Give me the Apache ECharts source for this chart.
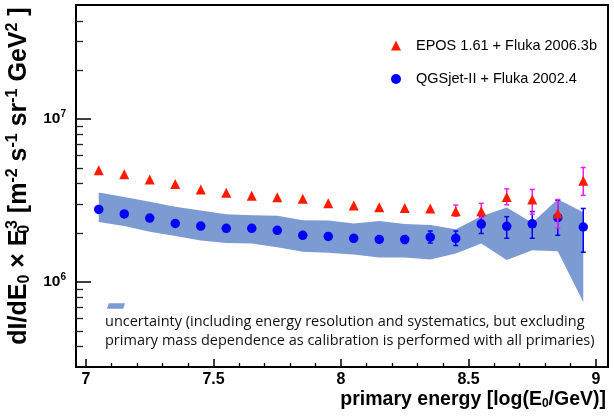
<!DOCTYPE html>
<html><head><meta charset="utf-8">
<script src="https://cdn.jsdelivr.net/npm/echarts@6/dist/echarts.min.js"></script>
<style>html,body{margin:0;padding:0;background:#fff}#c{width:614px;height:420px}</style>
</head><body><div id="c"></div>
<script>
// ---- data ----
const energies = [7.05,7.15,7.25,7.35,7.45,7.55,7.65,7.75,7.85,7.95,8.05,8.15,8.25,8.35,8.45,8.55,8.65,8.75,8.85,8.95];
const eposName = 'EPOS 1.61 + Fluka 2006.3b';
const eposValues = [4.84e6,4.58e6,4.25e6,3.99e6,3.69e6,3.52e6,3.37e6,3.30e6,3.23e6,3.03e6,2.94e6,2.87e6,2.84e6,2.82e6,2.71e6,2.71e6,3.32e6,3.20e6,2.63e6,4.17e6];
const eposErrLow  = [null,null,null,null,null,null,null,null,null,null,null,null,null,null,2.53e6,2.48e6,2.97e6,2.60e6,2.14e6,3.39e6];
const eposErrHigh = [null,null,null,null,null,null,null,null,null,null,null,null,null,null,2.96e6,3.03e6,3.72e6,3.69e6,3.20e6,5.03e6];
const qgsName = 'QGSjet-II + Fluka 2002.4';
const qgsValues = [2.78e6,2.61e6,2.46e6,2.28e6,2.20e6,2.13e6,2.13e6,2.07e6,1.93e6,1.90e6,1.85e6,1.82e6,1.82e6,1.88e6,1.85e6,2.26e6,2.19e6,2.27e6,2.48e6,2.17e6];
const qgsErrLow  = [null,null,null,null,null,null,null,null,null,null,null,null,1.72e6,1.73e6,1.67e6,1.98e6,1.85e6,1.85e6,1.93e6,1.52e6];
const qgsErrHigh = [null,null,null,null,null,null,null,null,null,null,null,null,1.90e6,2.05e6,2.05e6,2.53e6,2.51e6,2.70e6,3.17e6,2.82e6];
const bandName = 'uncertainty';
const bandHigh = [3.53e6,3.32e6,3.10e6,2.89e6,2.74e6,2.60e6,2.56e6,2.54e6,2.39e6,2.38e6,2.28e6,2.36e6,2.26e6,2.23e6,2.10e6,2.53e6,2.86e6,2.30e6,3.21e6,2.67e6];
const bandLow  = [2.33e6,2.20e6,2.03e6,1.91e6,1.79e6,1.73e6,1.72e6,1.63e6,1.53e6,1.51e6,1.47e6,1.41e6,1.41e6,1.37e6,1.49e6,1.72e6,1.36e6,1.56e6,1.54e6,0.753e6];
const noteText = 'uncertainty (including energy resolution and systematics, but excluding\nprimary mass dependence as calibration is performed with all primaries)';
const xMin = 6.9608, xMax = 9.047;
const yMin = 3e5, yMax = 5e7;
const xMajorTicks = [7, 7.5, 8, 8.5, 9];
const xMinorTicks = [7.1,7.2,7.3,7.4,7.6,7.7,7.8,7.9,8.1,8.2,8.3,8.4,8.6,8.7,8.8,8.9];
const yMajorTicks = [1e6, 1e7];
const yMinorTicks = [4e5,5e5,6e5,7e5,8e5,9e5,2e6,3e6,4e6,5e6,6e6,7e6,8e6,9e6,2e7,3e7,4e7];

// ---- styles ----
const RED = '#ff1a00', BLUE = '#0000ff', MAG = '#f01cf0', BAND = '#7b9bd2';
const FONT = '"Liberation Sans", Arial, Helvetica, sans-serif';
const L = Math.log10;

function errData(lo, hi) {
  const out = [];
  energies.forEach((e, i) => { if (lo[i] != null) out.push([e, L(lo[i]), L(hi[i])]); });
  return out;
}
function errRender(color) {
  return function (params, api) {
    const x = api.value(0);
    const p1 = api.coord([x, api.value(1)]);
    const p2 = api.coord([x, api.value(2)]);
    const w = 2.5;
    const st = { stroke: color, lineWidth: 1.5 };
    return { type: 'group', children: [
      { type: 'line', shape: { x1: p1[0], y1: p1[1], x2: p2[0], y2: p2[1] }, style: st },
      { type: 'line', shape: { x1: p1[0] - w, y1: p1[1], x2: p1[0] + w, y2: p1[1] }, style: st },
      { type: 'line', shape: { x1: p2[0] - w, y1: p2[1], x2: p2[0] + w, y2: p2[1] }, style: st }
    ]};
  };
}

const chart = echarts.init(document.getElementById('c'), null, { renderer: 'canvas' });
const supLbl = { fontSize: 10, fontWeight: 'bold', fontFamily: FONT, color: '#000', padding: [0, 0, 9, 0] };
chart.setOption({
  animation: false,
  backgroundColor: '#fff',
  textStyle: { fontFamily: FONT },
  title: {
    text: noteText, left: 105, top: 313, padding: 0,
    textStyle: { fontFamily: '"Open Sans"', fontSize: 14.5, fontWeight: 'normal', color: '#111', lineHeight: 18.5 }
  },
  grid: { left: 76, right: 6, top: 5, bottom: 53, show: true, borderColor: '#000', borderWidth: 2, backgroundColor: 'transparent', outerBoundsMode: 'none', containLabel: false },
  legend: [{
    data: [eposName, qgsName], orient: 'vertical', left: 391, top: 37.5, padding: 0,
    itemWidth: 10, itemHeight: 10, itemGap: 17.5, selectedMode: false,
    textStyle: { fontFamily: FONT, fontSize: 14.5, color: '#000', lineHeight: 16, padding: [0, 0, 0, 10] }
  }, {
    data: [{ name: bandName, icon: 'path://M2,0 L20,0 L18,6 L0,6 Z' }], left: 107, top: 303, padding: 0,
    itemWidth: 18, itemHeight: 6, selectedMode: false, formatter: () => '',
    textStyle: { fontSize: 1 }
  }],
  xAxis: [{
    type: 'value', min: xMin, max: xMax, position: 'bottom',
    axisLine: { show: false }, splitLine: { show: false },
    axisTick: { show: true, inside: true, length: 8, customValues: xMajorTicks, lineStyle: { color: '#000', width: 1.5 } },
    axisLabel: { customValues: xMajorTicks, margin: 5, fontSize: 16, fontWeight: 'bold', color: '#000', fontFamily: FONT },
    name: '{t|primary energy [log(E}{sb|0}{t|/GeV)]}',
    nameLocation: 'end', nameGap: -2,
    nameTextStyle: {
      align: 'right', verticalAlign: 'top', padding: [22, 0, 0, 0],
      rich: {
        t: { fontSize: 19.5, fontWeight: 'bold', fontFamily: FONT, color: '#000' },
        sb: { fontSize: 12, fontWeight: 'bold', fontFamily: FONT, color: '#000', padding: [9, 0, 0, 0] }
      }
    }
  }, {
    type: 'value', min: xMin, max: xMax, position: 'bottom',
    axisLine: { show: false }, splitLine: { show: false }, axisLabel: { show: false },
    axisTick: { show: true, inside: true, length: 4, customValues: xMinorTicks, lineStyle: { color: '#000', width: 1.3 } }
  }],
  yAxis: [{
    type: 'value', min: L(yMin), max: L(yMax), position: 'left',
    axisLine: { show: false }, splitLine: { show: false },
    axisTick: { show: true, inside: true, length: 15, customValues: yMajorTicks.map(L), lineStyle: { color: '#000', width: 1.5 } },
    axisLabel: {
      customValues: yMajorTicks.map(L), margin: 10,
      formatter: v => '{b|10}{s|' + Math.round(v) + '}',
      rich: { b: { fontSize: 15.5, fontWeight: 'bold', fontFamily: FONT, color: '#000' }, s: supLbl }
    },
    name: '{t|dI/dE}{sb|0}{t| × E}{sbz|0}{sp|3}{t| [m}{sp|-2}{t| s}{sp|-1}{t| sr}{sp|-1}{t| GeV}{sp|2}{t| ]}',
    nameLocation: 'middle', nameRotate: 90, nameGap: 30,
    nameTextStyle: {
      padding: [0, 0, 0, 20],
      rich: {
        t: { fontSize: 25, fontWeight: 'bold', fontFamily: FONT, color: '#000' },
        sb: { fontSize: 16, fontWeight: 'bold', fontFamily: FONT, color: '#000', padding: [11, 0, 0, 0] },
        sbz: { fontSize: 16, fontWeight: 'bold', fontFamily: FONT, color: '#000', padding: [11, 0, 0, 0], width: 0.5 },
        sp: { fontSize: 16, fontWeight: 'bold', fontFamily: FONT, color: '#000', padding: [0, 0, 13, 0] }
      }
    }
  }, {
    type: 'value', min: L(yMin), max: L(yMax), position: 'left',
    axisLine: { show: false }, splitLine: { show: false }, axisLabel: { show: false },
    axisTick: { show: true, inside: true, length: 7, customValues: yMinorTicks.map(L), lineStyle: { color: '#222', width: 1.3 } }
  }],
  series: [{
    name: bandName, type: 'custom', xAxisIndex: 0, yAxisIndex: 0, z: 1, silent: true,
    itemStyle: { color: BAND },
    data: [[energies[0], L(bandLow[0])]],
    renderItem: (params, api) => {
      const pts = [];
      energies.forEach((e, i) => pts.push(api.coord([e, L(bandHigh[i])])));
      for (let i = energies.length - 1; i >= 0; i--) pts.push(api.coord([energies[i], L(bandLow[i])]));
      return { type: 'polygon', shape: { points: pts }, style: { fill: BAND } };
    }
  }, {
    name: qgsName + ' err', type: 'custom', z: 2, silent: true,
    encode: { x: 0, y: [1, 2] }, data: errData(qgsErrLow, qgsErrHigh), renderItem: errRender(BLUE)
  }, {
    name: qgsName, type: 'scatter', z: 3, symbol: 'circle', symbolSize: 9.5,
    itemStyle: { color: BLUE, opacity: 1 },
    data: energies.map((e, i) => [e, L(qgsValues[i])])
  }, {
    name: eposName + ' err', type: 'custom', z: 4, silent: true,
    encode: { x: 0, y: [1, 2] }, data: errData(eposErrLow, eposErrHigh), renderItem: errRender(MAG)
  }, {
    name: eposName, type: 'scatter', z: 5, symbol: 'triangle', symbolSize: 10,
    itemStyle: { color: RED, opacity: 1 },
    data: energies.map((e, i) => [e, L(eposValues[i])])
  }]
});
</script>
</body></html>
